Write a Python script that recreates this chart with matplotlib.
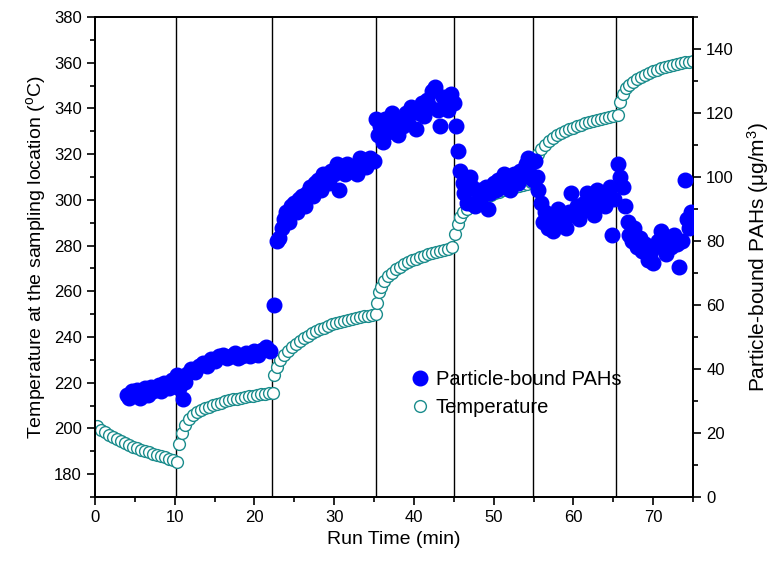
import matplotlib
matplotlib.use('Agg')
import matplotlib.pyplot as plt
from matplotlib.ticker import MultipleLocator

plt.rcParams['font.family'] = ['Liberation Sans', 'DejaVu Sans']
plt.rcParams['mathtext.fontset'] = 'custom'
plt.rcParams['mathtext.rm'] = 'Liberation Sans'
plt.rcParams['mathtext.it'] = 'Liberation Sans:italic'

# temperature at the sampling location (left axis, deg C)
temp_time = [0.3, 0.8, 1.3, 1.8, 2.3, 2.8, 3.3, 3.8, 4.3, 4.8, 5.3, 5.8, 6.3, 6.8, 7.3, 7.8, 8.3, 8.8, 9.3, 9.8, 10.3,
             10.6, 10.9, 11.3, 11.8, 12.3, 12.8, 13.3, 13.8, 14.3, 14.8, 15.3, 15.8, 16.3, 16.8, 17.3, 17.8, 18.3, 18.8,
             19.3, 19.8, 20.3, 20.8, 21.3, 21.8, 22.3,
             22.5, 22.8, 23.2, 23.7, 24.2, 24.7, 25.2, 25.7, 26.2, 26.7, 27.2, 27.7, 28.2, 28.7, 29.2, 29.7, 30.2, 30.7,
             31.2, 31.7, 32.2, 32.7, 33.2, 33.7, 34.2, 34.7, 35.2,
             35.4, 35.6, 35.9, 36.3, 36.8, 37.3, 37.8, 38.3, 38.8, 39.3, 39.8, 40.3, 40.8, 41.3, 41.8, 42.3, 42.8, 43.3,
             43.8, 44.3, 44.8,
             45.2, 45.5, 45.8, 46.2, 46.7, 47.2, 47.7, 48.2, 48.7, 49.2, 49.7, 50.2, 50.7, 51.2, 51.7, 52.2, 52.7, 53.2,
             53.7, 54.2, 54.7, 55.1,
             55.3, 55.6, 56.0, 56.5, 57.0, 57.5, 58.0, 58.5, 59.0, 59.5, 60.0, 60.5, 61.0, 61.5, 62.0, 62.5, 63.0, 63.5,
             64.0, 64.5, 65.0, 65.6,
             65.9, 66.2, 66.6, 67.0, 67.5, 68.0, 68.5, 69.0, 69.5, 70.0, 70.5, 71.0, 71.5, 72.0, 72.5, 73.0, 73.5, 74.0,
             74.5, 75.0]
temp_vals = [201, 199.5, 198.3, 197.2, 196.2, 195.3, 194.4, 193.6, 192.8, 192.1, 191.4, 190.7, 190.1, 189.5, 188.9,
             188.3, 187.8, 187.3, 186.8, 186.3, 185.5,
             193, 198, 201.5, 204, 205.8, 207, 208, 208.8, 209.5, 210.2, 210.8, 211.3, 211.8, 212.3, 212.7, 213.1,
             213.4, 213.7, 214, 214.3, 214.6, 214.9, 215.1, 215.3, 215.6,
             223.5, 227, 230, 232.2, 234, 235.6, 237, 238.3, 239.5, 240.6, 241.6, 242.5, 243.3, 244.1, 244.8, 245.5,
             246.1, 246.6, 247.1, 247.6, 248, 248.4, 248.8, 249.1, 249.4, 249.7, 250,
             255, 259.5, 262, 264.5, 266.5, 268.2, 269.6, 270.8, 271.8, 272.7, 273.5, 274.2, 274.9, 275.5, 276.1,
             276.6, 277.1, 277.6, 278.1, 278.6, 279.2,
             285, 289.5, 292.5, 294.5, 296.2, 297.6, 298.8, 299.8, 300.7, 301.5, 302.2, 302.9, 303.5, 304.1, 304.6,
             305.1, 305.6, 306.1, 306.6, 307.1, 307.8, 309,
             317, 320, 322.3, 324.2, 325.8, 327.1, 328.2, 329.2, 330.1, 330.9, 331.6, 332.3, 332.9, 333.5, 334,
             334.5, 335, 335.4, 335.8, 336.2, 336.6, 337,
             343, 346.5, 348.8, 350.3, 351.7, 352.9, 353.9, 354.8, 355.6, 356.3, 356.9, 357.5, 358, 358.5, 358.9,
             359.3, 359.7, 360.1, 360.4, 360.7]

# particle-bound PAHs (right axis, ug/m3)
pah_time = [4.0, 4.3, 4.6, 5.0, 5.3, 5.6, 6.0, 6.3, 6.6, 7.0, 7.3, 7.6, 8.0, 8.3, 8.6, 9.0, 9.3, 9.6, 10.0,
            10.3, 10.6, 11.0, 11.3, 11.6, 12.0, 12.5, 13.0, 13.5, 14.0, 14.5, 15.0, 15.5, 16.0, 16.5, 17.0, 17.5,
            18.0, 18.5, 19.0, 19.5, 20.0, 20.5, 21.0, 21.5, 22.0,
            22.5, 22.8, 23.1, 23.4, 23.7, 24.0, 24.3, 24.6, 25.0, 25.3, 25.6, 26.0, 26.3, 26.6, 27.0, 27.3, 27.6,
            28.0, 28.3, 28.6, 29.0, 29.3, 29.6, 30.0, 30.3, 30.6, 31.0, 31.3, 31.6, 32.0, 32.4, 32.8, 33.2, 33.6,
            34.0, 34.5, 35.0,
            35.3, 35.5, 35.8, 36.1, 36.4, 36.7, 37.0, 37.3, 37.6, 38.0, 38.3, 38.6, 39.0, 39.3, 39.6, 40.0, 40.3,
            40.6, 41.0, 41.3, 41.6, 42.0, 42.3, 42.6, 43.0, 43.3, 43.6, 44.0, 44.3, 44.6, 45.0,
            45.3, 45.5, 45.8, 46.1, 46.3, 46.6, 47.0, 47.3, 47.6, 48.0, 48.3, 48.6, 49.0, 49.3, 49.6, 50.0, 50.3,
            50.6, 51.0, 51.3, 51.6, 52.0, 52.3, 52.6, 53.0, 53.3, 53.6, 54.0, 54.3, 54.6, 54.9,
            55.2, 55.4, 55.6, 55.9, 56.2, 56.5, 56.8, 57.1, 57.4, 57.8, 58.1, 58.4, 58.8, 59.1, 59.4, 59.7, 60.0,
            60.4, 60.7, 61.0, 61.3, 61.7, 62.0, 62.3, 62.6, 63.0, 63.3, 63.6, 64.0, 64.3, 64.6, 64.8, 65.1,
            65.6, 65.9, 66.2, 66.5, 66.8, 67.0, 67.3, 67.6, 68.0, 68.3, 68.6, 69.0, 69.3, 69.6, 70.0, 70.3, 70.6,
            71.0, 71.3, 71.6, 72.0, 72.3, 72.6, 73.0, 73.3, 73.6, 74.0, 74.2, 74.5, 74.8, 75.0]
pah_vals = [32, 31, 33, 32, 33.5, 31, 33, 34, 32, 34.5, 33, 34, 35, 33, 35.5, 34.5, 34, 36.5, 35,
            38, 34, 30.5, 36, 38.5, 40, 39, 41, 42, 41, 43, 42.5, 44, 44.5, 43.5, 44, 45, 43.5, 44, 45, 44,
            45.5, 44.5, 46, 47, 45.5,
            60, 80, 81, 84, 87, 89, 86, 91, 92, 89, 93, 94, 91, 95, 97, 94, 98, 99, 96, 101, 100, 98, 102, 101,
            104, 96, 103, 101, 104, 102, 103, 101, 106, 104, 103, 106, 105,
            118, 113, 116, 111, 118, 114, 117, 120, 115, 113, 118, 116, 120, 117, 122, 121, 115, 120, 123, 119,
            124, 122, 127, 128, 121, 116, 125, 124, 121, 126, 123,
            116, 108, 102, 98, 95, 92, 100, 97, 91, 93, 96, 94, 97, 90, 95, 98, 96, 99, 97, 101, 98, 96, 99, 101,
            98, 102, 100, 104, 106, 101, 99,
            105, 100, 96, 92, 86, 89, 84, 88, 83, 87, 90, 86, 88, 84, 89, 95, 88, 91, 87, 89, 92, 95, 90, 93, 88,
            96, 92, 94, 91, 95, 97, 82, 93,
            104, 100, 97, 91, 86, 82, 80, 84, 78, 81, 77, 79, 74, 76, 73, 78, 80, 83, 79, 76, 80, 78, 82, 79, 72,
            80, 99, 87, 84, 89, 86]

# vertical separators between heating steps
event_times = [10.1, 22.2, 35.3, 45.0, 54.9, 65.3]

teal = '#1a8c8c'

fig = plt.figure(figsize=(7.76, 5.77), dpi=100)
ax = fig.add_axes([0.1224, 0.1386, 0.7706, 0.832])
ax2 = ax.twinx()

for t in event_times:
    ax.axvline(t, color='k', lw=1.0, zorder=1)

h_temp, = ax.plot(temp_time, temp_vals, 'o', ms=8.5, mfc='white', mec=teal, mew=1.0, zorder=2,
                  label='Temperature')
h_pah, = ax2.plot(pah_time, pah_vals, 'o', ms=10.5, color='blue', mec='blue', zorder=3,
                  label='Particle-bound PAHs')

ax.set_xlim(0, 75)
ax.set_ylim(170, 380)
ax2.set_ylim(0, 150)

ax.xaxis.set_major_locator(MultipleLocator(10))
ax.xaxis.set_minor_locator(MultipleLocator(5))
ax.yaxis.set_major_locator(MultipleLocator(20))
ax.yaxis.set_minor_locator(MultipleLocator(10))
ax2.yaxis.set_major_locator(MultipleLocator(20))
ax2.yaxis.set_minor_locator(MultipleLocator(10))

for a in (ax, ax2):
    a.tick_params(which='major', direction='out', length=6, width=1.2, labelsize=12)
    a.tick_params(which='minor', direction='out', length=3.5, width=1.2)
    for s in a.spines.values():
        s.set_linewidth(1.3)

ax.set_xlabel('Run Time (min)', fontsize=14)
ax.set_ylabel('Temperature at the sampling location ($^{\\rm o}$C)', fontsize=14)
ax2.set_ylabel('Particle-bound PAHs (μg/m$^{\\rm 3}$)', fontsize=15, labelpad=8)

ax2.legend([h_pah, h_temp], ['Particle-bound PAHs', 'Temperature'], loc='center left',
           bbox_to_anchor=(0.513, 0.215), frameon=False, fontsize=14.5, handlelength=1.0,
           handletextpad=0.3, borderaxespad=0, labelspacing=0.45)

fig.savefig('out.png', dpi=100)
